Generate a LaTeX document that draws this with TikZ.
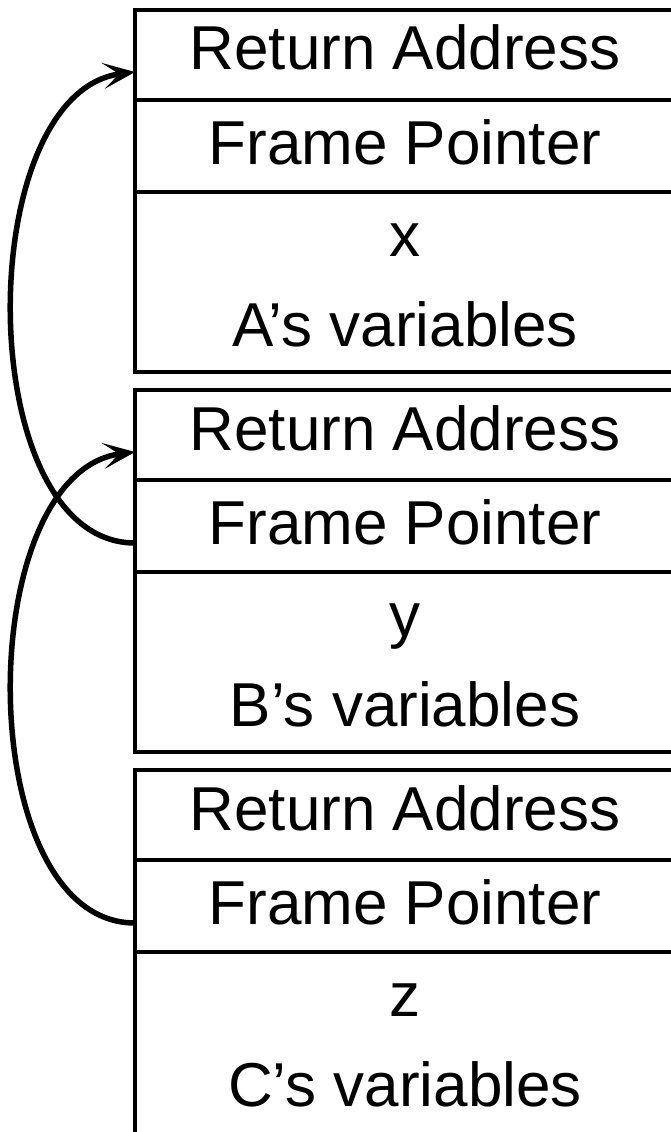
\documentclass[tikz,border=0pt]{standalone}
\usepackage{fontspec}
\setmainfont{Liberation Sans}
\usetikzlibrary{positioning,arrows.meta}
\tikzstyle{cell} = [draw=black, line width=4pt, rectangle, minimum width=540pt,
    inner sep=0pt, outer sep=0pt, font=\fontsize{62}{90}\selectfont]
\tikzstyle{ra} = [cell, minimum height=90pt, text height=45pt, text depth=15pt]
\tikzstyle{fp} = [cell, minimum height=92pt, text height=45pt, text depth=8pt]
\tikzstyle{vars} = [cell, minimum height=180pt, align=center]
\tikzstyle{link} = [line width=5.5pt, -{Stealth[length=32pt,width=26pt,inset=16pt]}]

\begin{document}
\begin{tikzpicture}
                \useasboundingbox (0,0) rectangle (670pt,-1132pt);
                \node[ra, anchor=north west] (ra1) at (135pt,-10pt) {Return Address};
                \node[fp, below=0pt of ra1] (fp1) {Frame Pointer};
                \node[vars, below=0pt of fp1] (var1) {\rule{0pt}{40pt}x\\A’s variables};

                \node[ra, below=18pt of var1] (ra2) {Return Address};
                \node[fp, below=0pt of ra2] (fp2) {Frame Pointer};
                \node[vars, below=0pt of fp2] (var2) {\rule{0pt}{40pt}y\\B’s variables};

                \node[ra, below=18pt of var2] (ra3) {Return Address};
                \node[fp, below=0pt of ra3] (fp3) {Frame Pointer};
                \node[vars, draw=none, below=0pt of fp3] (var3) {\rule{0pt}{40pt}z\\C’s variables};
                \draw[line width=4pt] (var3.north west) -- (var3.south west);

                \draw[link] ([yshift=-17pt]fp2.west) .. controls +(-164pt,0pt) and +(-164pt,-20pt) .. ([yshift=-17pt]ra1.west);
                \draw[link] ([yshift=-17pt]fp3.west) .. controls +(-164pt,0pt) and +(-164pt,-20pt) .. ([yshift=-17pt]ra2.west);
            \end{tikzpicture}
\end{document}
